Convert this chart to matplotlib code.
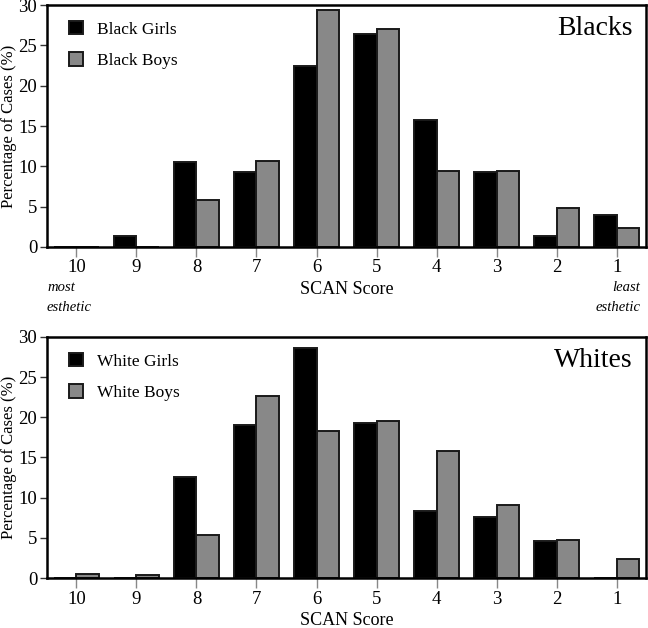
import matplotlib as mpl
mpl.use('Agg')
import matplotlib.pyplot as plt
import numpy as np

plt.rcParams['font.family'] = ['Liberation Serif', 'DejaVu Serif']

scores = ['10', '9', '8', '7', '6', '5', '4', '3', '2', '1']

black_girls = [0, 1.35, 10.5, 9.3, 22.4, 26.4, 15.8, 9.3, 1.35, 3.95]
black_boys = [0, 0, 5.8, 10.6, 29.4, 27.0, 9.4, 9.4, 4.8, 2.35]

white_girls = [0, 0, 12.6, 19.0, 28.6, 19.3, 8.4, 7.55, 4.65, 0]
white_boys = [0.55, 0.4, 5.4, 22.7, 18.3, 19.6, 15.8, 9.05, 4.75, 2.35]

panels = [
    ('Blacks', 'Black Girls', 'Black Boys', black_girls, black_boys),
    ('Whites', 'White Girls', 'White Boys', white_girls, white_boys),
]

fig = plt.figure(figsize=(6.48, 6.28), dpi=100)
ax_pos = [[0.0725, 0.6067, 0.9245, 0.3853], [0.0725, 0.0796, 0.9245, 0.3838]]

x = np.arange(len(scores))
w = 0.38
edge = '#1a1a1a'

for i, (ttl, lab1, lab2, g, b) in enumerate(panels):
    ax = fig.add_axes(ax_pos[i])
    ax.bar(x - w / 2, g, w, color='black', edgecolor=edge, linewidth=1.4, label=lab1)
    ax.bar(x + w / 2, b, w, color='#888888', edgecolor=edge, linewidth=1.4, label=lab2)
    ax.set_xlim(-0.49, 9.49)
    ax.set_ylim(0, 30)
    ax.set_yticks([0, 5, 10, 15, 20, 25, 30])
    ax.set_xticks(x)
    ax.set_xticklabels(scores)
    for s in ax.spines.values():
        s.set_linewidth(1.8)
    ax.tick_params(axis='x', direction='out', length=7, width=1, color='#888888',
                   labelsize=13.5, pad=2)
    ax.tick_params(axis='y', direction='out', length=5, width=1, color='#333333',
                   labelsize=13.5, pad=2)
    ax.set_ylabel('Percentage of Cases (%)', fontsize=12, labelpad=1)
    ax.set_xlabel('SCAN Score', fontsize=13, labelpad=3)
    ax.text(0.978, 0.955, ttl, transform=ax.transAxes, ha='right', va='top', fontsize=20)
    ax.legend(loc='upper left', frameon=False, fontsize=12.5, handlelength=0.85,
              handleheight=0.85, labelspacing=0.85, handletextpad=0.8,
              bbox_to_anchor=(0.01, 1.0))
    if i == 0:
        ax.text(0.0, -0.14, 'most', transform=ax.transAxes, ha='left', va='top',
                fontsize=10.5, style='italic')
        ax.text(0.0, -0.225, 'esthetic', transform=ax.transAxes, ha='left', va='top',
                fontsize=10.5, style='italic')
        ax.text(0.99, -0.14, 'least', transform=ax.transAxes, ha='right', va='top',
                fontsize=10.5, style='italic')
        ax.text(0.99, -0.225, 'esthetic', transform=ax.transAxes, ha='right', va='top',
                fontsize=10.5, style='italic')

fig.savefig('out.png', dpi=100)
